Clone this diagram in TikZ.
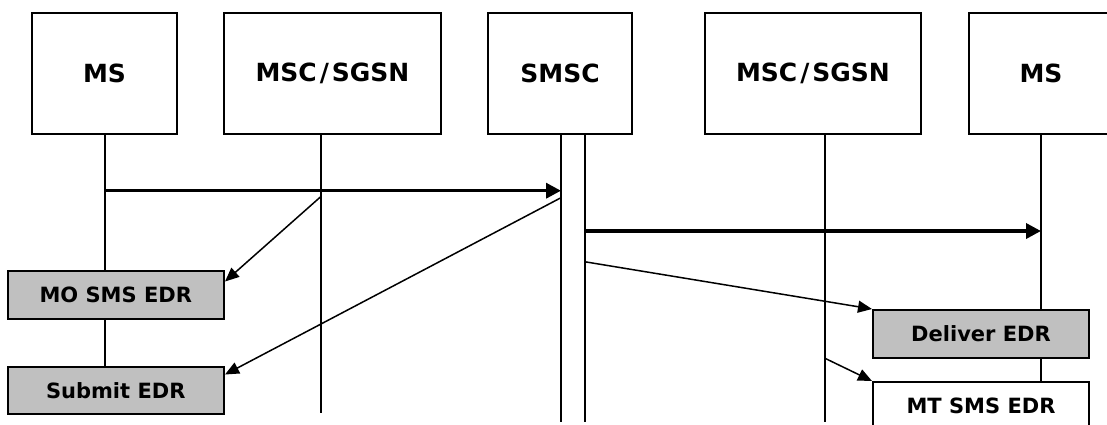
\documentclass[tikz,border=0pt]{standalone}
\usepackage{fontspec}
\setmainfont{DejaVu Sans}
\usetikzlibrary{arrows.meta,backgrounds}
\definecolor{edrgray}{RGB}{192,192,192}
\newcommand{\slashsep}{\kern3pt/\kern3pt}
\tikzset{
  entity/.style={draw=black, line width=2pt, fill=white, inner sep=0pt,
    minimum height=120.4pt, font=\fontsize{25}{30}\selectfont\bfseries},
  edr/.style={draw=black, line width=2pt, fill=edrgray, inner sep=0pt,
    minimum width=216.5pt, minimum height=48pt, font=\fontsize{21}{25}\selectfont\bfseries},
  edrwhite/.style={edr, fill=white},
  lifeline/.style={draw=black, line width=2pt},
  msg/.style={draw=black, line width=3.5pt, -{Triangle[length=15pt,width=15pt]}},
  rec/.style={draw=black, line width=1.5pt, -{Triangle[length=14pt,width=12pt]}}
}
\begin{document}
\begin{tikzpicture}[x=1pt, y=-1pt]
\clip (0,0) rectangle (1107,424);

% network entities
\node[entity, minimum width=145pt] (ms1)   at (104.5,73.5) {MS};
\node[entity, minimum width=217pt] (msc1)  at (332.5,73.5) {MSC\slashsep SGSN};
\node[entity, minimum width=144pt] (smsc)  at (560,73.5)   {SMSC};
\node[entity, minimum width=216pt] (msc2)  at (813,73.5)   {MSC\slashsep SGSN};
\node[entity, minimum width=144pt] (ms2)   at (1041,73.5)  {MS};

% event data records
\node[edr]                           (mo)      at (115.75,294.5) {MO SMS EDR};
\node[edr, minimum height=47pt]      (submit)  at (115.75,390.5) {Submit EDR};
\node[edr, minimum width=216pt]      (deliver) at (981,334)      {Deliver EDR};
\node[edrwhite, minimum width=216pt] (mt)      at (981,406)      {MT SMS EDR};

% lifeline anchors
\coordinate (l1)  at (105,133.7);
\coordinate (l2)  at (320.7,133.7);
\coordinate (l3a) at (561,133.7);
\coordinate (l3b) at (584.5,133.7);
\coordinate (l4)  at (825,133.7);
\coordinate (l5)  at (1041,133.7);
\coordinate (e2)  at (320.7,413);
\coordinate (e3a) at (561,422);
\coordinate (e3b) at (584.5,422);
\coordinate (e4)  at (825,422);

% white page and lifelines, kept behind the record boxes
\begin{pgfonlayer}{background}
\fill[white] (0,0) rectangle (1107,424);
\draw[lifeline] (l1) -- (l1 |- mo.north);
\draw[lifeline] (l1 |- mo.south) -- (l1 |- submit.north);
\draw[lifeline] (l2) -- (e2);
\draw[lifeline] (l3a) -- (e3a);
\draw[lifeline] (l3b) -- (e3b);
\draw[lifeline] (l4) -- (e4);
\draw[lifeline] (l5) -- (l5 |- deliver.north);
\draw[lifeline] (l5 |- deliver.south) -- (l5 |- mt.north);
\end{pgfonlayer}

% message flow
\coordinate (m1s) at (105,190.7);
\coordinate (m1e) at (561,190.7);
\coordinate (m2s) at (584.5,231);
\coordinate (m2e) at (1041,231);
\draw[msg] (m1s) -- (m1e);
\draw[msg] (m2s) -- (m2e);

% record generation
\coordinate (r1) at (320.7,196.7);
\coordinate (r2) at (561,197.7);
\coordinate (r3) at (584.5,261.7);
\coordinate (r4) at (825,358.3);
\draw[rec] (r1) -- ([yshift=13pt]mo.east);
\draw[rec] (r2) -- ([yshift=16pt]submit.east);
\draw[rec] (r3) -- (deliver.north west);
\draw[rec] (r4) -- (mt.north west);
\end{tikzpicture}
\end{document}
